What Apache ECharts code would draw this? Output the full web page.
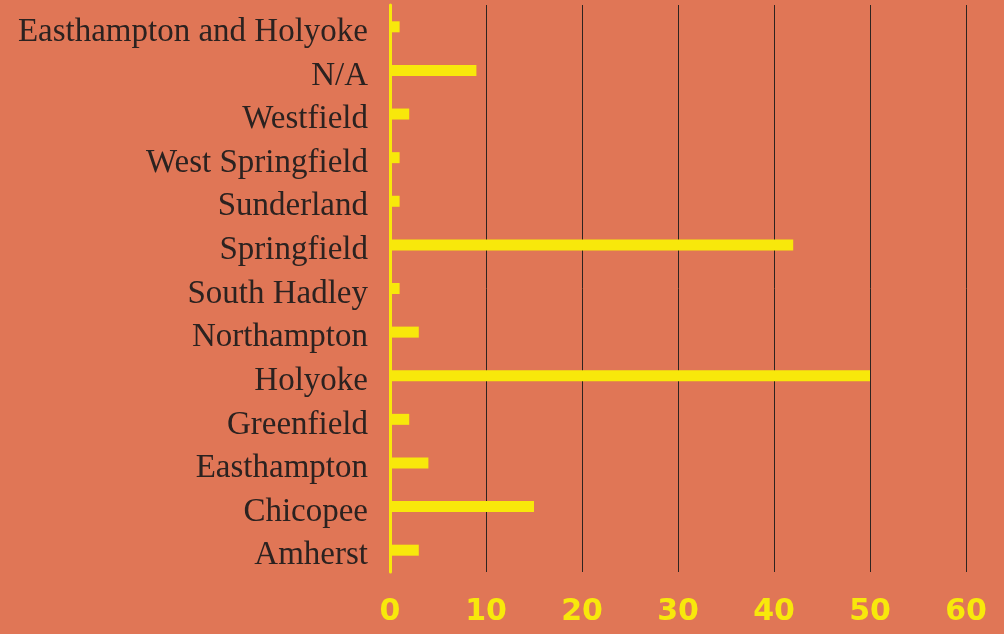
<!DOCTYPE html>
<html>
<head>
<meta charset="utf-8">
<script src="https://cdn.jsdelivr.net/npm/echarts@6/dist/echarts.min.js"></script>
<style>
  html, body { margin: 0; padding: 0; background: #E07656; }
  #chart { width: 1004px; height: 634px; }
</style>
</head>
<body>
<div id="chart"></div>
<script>
// Towns, listed bottom-to-top as the category axis draws them
const towns = [
  'Amherst', 'Chicopee', 'Easthampton', 'Greenfield', 'Holyoke',
  'Northampton', 'South Hadley', 'Springfield', 'Sunderland',
  'West Springfield', 'Westfield', 'N/A', 'Easthampton and Holyoke'
];
// Count per town
const counts = [3, 15, 4, 2, 50, 3, 1, 42, 1, 1, 2, 9, 1];
// Value axis ticks
const axisMin = 0;
const axisMax = 60;
const axisStep = 10;

const yellow = '#F8E80B';

const chart = echarts.init(document.getElementById('chart'), null, { renderer: 'canvas' });
chart.setOption({
  backgroundColor: '#E07656',
  animation: false,
  grid: { left: 390, right: 38, top: 5, bottom: 62, containLabel: false },
  xAxis: {
    type: 'value',
    min: axisMin,
    max: axisMax,
    interval: axisStep,
    axisLine: { show: false },
    axisTick: { show: false },
    splitLine: { show: true, lineStyle: { color: '#2e2420', width: 1 } },
    axisLabel: {
      color: yellow,
      fontFamily: 'DejaVu Sans',
      fontWeight: 'bold',
      fontSize: 30,
      margin: 25
    }
  },
  yAxis: {
    type: 'category',
    data: towns,
    axisLine: { show: true, lineStyle: { color: yellow, width: 3 } },
    axisTick: { show: false },
    axisLabel: {
      margin: 22,
      formatter: function (v) { return '{t|' + v + '}'; },
      rich: {
        t: {
          color: '#2b2220',
          fontFamily: 'Liberation Serif',
          fontSize: 33,
          padding: [11, 0, 0, 0]
        }
      }
    }
  },
  series: [{
    type: 'bar',
    data: counts,
    barWidth: 11,
    itemStyle: { color: yellow }
  }]
});
</script>
</body>
</html>
